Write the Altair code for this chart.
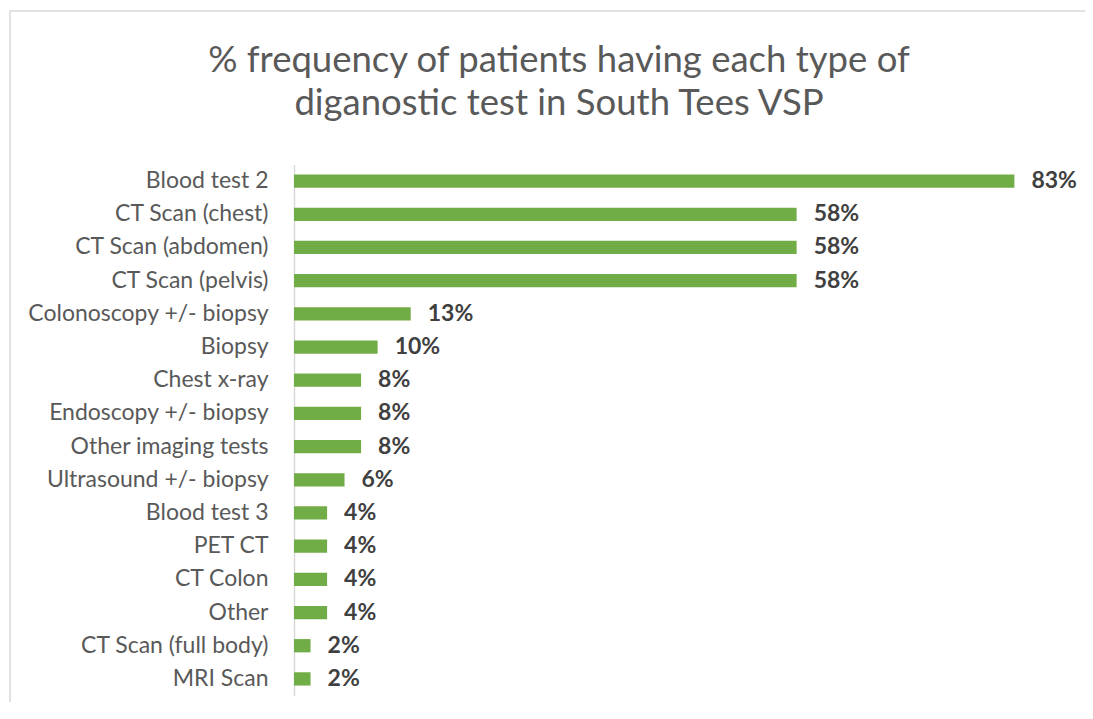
import altair as alt
import pandas as pd

categories = [
    "Blood test 2", "CT Scan (chest) ", "CT Scan (abdomen)", "CT Scan (pelvis)",
    "Colonoscopy +/- biopsy", "Biopsy", "Chest x-ray ", "Endoscopy +/- biopsy",
    "Other imaging tests", "Ultrasound +/- biopsy", "Blood test 3 ", "PET CT",
    "CT Colon", "Other", "CT Scan (full body) ", "MRI Scan",
]
values = [0.827, 0.577, 0.577, 0.577, 0.134, 0.096, 0.077, 0.077,
          0.077, 0.058, 0.038, 0.038, 0.038, 0.038, 0.019, 0.019]
title_lines = ["% frequency of patients having each type of",
               "diganostic test in South Tees VSP"]

df = pd.DataFrame({"test": categories, "pct": values})

FONT = "Lato"
GREEN = "#70AD47"

y_enc = alt.Y("test:N", sort=categories, title=None,
              scale=alt.Scale(paddingInner=0.6),
              axis=alt.Axis(ticks=False, domainColor="#D9D9D9", domainWidth=1.5,
                            labelFont=FONT, labelFontSize=23, labelColor="#595959",
                            labelPadding=26, labelLimit=400))
x_enc = alt.X("pct:Q", title=None, scale=alt.Scale(domain=[0, 0.9], nice=False),
              axis=None)

bars = alt.Chart(df).mark_bar(color=GREEN).encode(y=y_enc, x=x_enc)
labels = alt.Chart(df).mark_text(align="left", baseline="middle", dx=17,
                                 font=FONT, fontSize=23, fontWeight="bold",
                                 color="#404040").encode(
    y=alt.Y("test:N", sort=categories), x="pct:Q",
    text=alt.Text("pct:Q", format=".0%"))

frame = alt.Chart(pd.DataFrame({"a": [0]})).mark_rect(
    filled=False, stroke="#D9D9D9", strokeWidth=1.5).encode(
    x=alt.value(-284), x2=alt.value(806), y=alt.value(-153.5), y2=alt.value(580))

chart = alt.layer(frame, bars, labels).properties(
    width=784, height=531,
    title=alt.TitleParams(text=title_lines, font=FONT, fontSize=36.5,
                          fontWeight="normal", color="#595959", anchor="middle",
                          dx=-127, offset=-112, lineHeight=43),
    autosize=alt.AutoSizeParams(type="none"),
    padding={"left": 286, "top": 156.5, "right": 7, "bottom": 6},
).configure_view(stroke=None)

chart.save("out.html", embed_options={"renderer": "svg", "actions": False})
